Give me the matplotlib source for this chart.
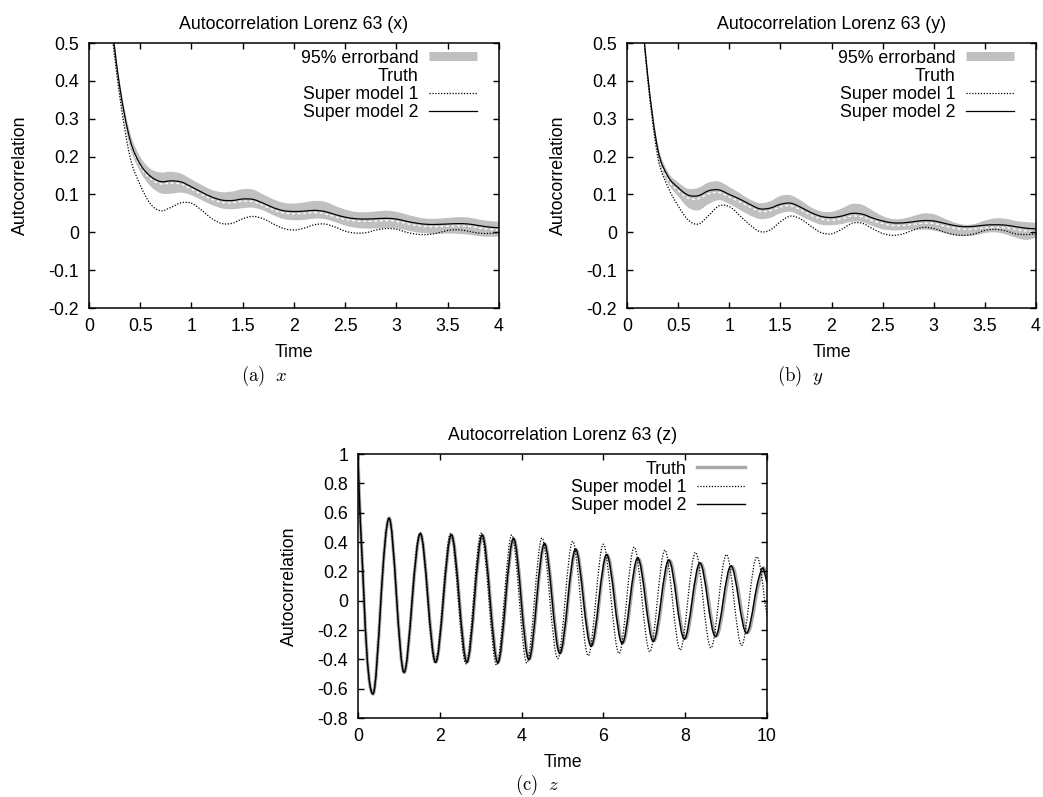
import numpy as np
import matplotlib
matplotlib.use("Agg")
import matplotlib.pyplot as plt
from matplotlib.path import Path
from matplotlib.patches import PathPatch
from matplotlib.lines import Line2D
from matplotlib.ticker import FuncFormatter

plt.rcParams['font.family'] = ['Liberation Sans', 'DejaVu Sans']
plt.rcParams['mathtext.fontset'] = 'cm'
plt.rcParams['axes.unicode_minus'] = False

# ---- panel (a): x component ----
time_a = [0.0, 0.1, 0.2, 0.3, 0.4, 0.5, 0.6, 0.7, 0.8, 0.9, 1.0, 1.1, 1.2, 1.3, 1.4, 1.5, 1.6, 1.7, 1.8, 1.9,
          2.0, 2.1, 2.2, 2.3, 2.4, 2.5, 2.6, 2.7, 2.8, 2.9, 3.0, 3.1, 3.2, 3.3, 3.4, 3.5, 3.6, 3.7, 3.8, 3.9, 4.0]
band_hi_a = [1.0, 0.84, 0.61, 0.40, 0.265, 0.2, 0.168, 0.158, 0.16, 0.155, 0.14, 0.125, 0.112, 0.106, 0.108,
             0.114, 0.113, 0.1, 0.087, 0.078, 0.076, 0.079, 0.083, 0.081, 0.07, 0.06, 0.054, 0.053, 0.055,
             0.057, 0.054, 0.047, 0.04, 0.036, 0.036, 0.038, 0.04, 0.039, 0.034, 0.03, 0.028]
band_lo_a = [1.0, 0.8, 0.57, 0.36, 0.225, 0.16, 0.122, 0.103, 0.102, 0.105, 0.098, 0.085, 0.072, 0.063, 0.061,
             0.064, 0.065, 0.058, 0.045, 0.035, 0.032, 0.033, 0.036, 0.035, 0.027, 0.018, 0.012, 0.01, 0.01,
             0.011, 0.01, 0.005, 0.0, -0.003, -0.004, -0.003, -0.004, -0.006, -0.01, -0.012, -0.011]
truth_a = [1.0, 0.83, 0.59, 0.38, 0.24, 0.175, 0.142, 0.128, 0.13, 0.127, 0.114, 0.1, 0.087, 0.079, 0.078,
           0.082, 0.081, 0.071, 0.059, 0.051, 0.049, 0.05, 0.052, 0.049, 0.041, 0.034, 0.03, 0.029, 0.03,
           0.031, 0.029, 0.023, 0.018, 0.015, 0.015, 0.016, 0.017, 0.016, 0.012, 0.008, 0.006]
sm1_a = [1.0, 0.83, 0.58, 0.36, 0.2, 0.125, 0.075, 0.057, 0.066, 0.078, 0.077, 0.058, 0.036, 0.023, 0.024,
         0.036, 0.042, 0.036, 0.022, 0.01, 0.006, 0.011, 0.02, 0.022, 0.014, 0.003, -0.002, -0.001, 0.006,
         0.01, 0.008, 0.0, -0.005, -0.006, -0.002, 0.005, 0.007, 0.003, -0.002, -0.003, -0.001]
sm2_a = [1.0, 0.84, 0.6, 0.385, 0.245, 0.18, 0.148, 0.134, 0.136, 0.133, 0.12, 0.106, 0.093, 0.085, 0.084,
         0.088, 0.087, 0.077, 0.065, 0.057, 0.055, 0.056, 0.058, 0.055, 0.047, 0.04, 0.036, 0.035, 0.036,
         0.037, 0.035, 0.029, 0.024, 0.021, 0.021, 0.022, 0.023, 0.022, 0.018, 0.014, 0.012]

# ---- panel (b): y component ----
time_b = time_a
band_hi_b = [1.0, 0.73, 0.43, 0.235, 0.16, 0.132, 0.115, 0.118, 0.132, 0.134, 0.12, 0.104, 0.087, 0.077, 0.082,
             0.096, 0.098, 0.084, 0.066, 0.055, 0.054, 0.063, 0.075, 0.073, 0.058, 0.043, 0.035, 0.036, 0.043,
             0.05, 0.048, 0.037, 0.026, 0.02, 0.022, 0.031, 0.037, 0.036, 0.03, 0.027, 0.025]
band_lo_b = [1.0, 0.7, 0.395, 0.2, 0.13, 0.095, 0.065, 0.058, 0.075, 0.085, 0.075, 0.06, 0.045, 0.035, 0.038,
             0.05, 0.054, 0.043, 0.03, 0.02, 0.019, 0.022, 0.028, 0.027, 0.017, 0.008, 0.005, 0.006, 0.007,
             0.007, 0.005, -0.002, -0.008, -0.01, -0.008, -0.002, 0.0, -0.005, -0.014, -0.02, -0.015]
truth_b = [1.0, 0.715, 0.412, 0.212, 0.14, 0.11, 0.09, 0.089, 0.102, 0.105, 0.093, 0.081, 0.067, 0.055, 0.057,
           0.067, 0.07, 0.059, 0.045, 0.035, 0.032, 0.036, 0.043, 0.041, 0.031, 0.023, 0.018, 0.018, 0.021,
           0.024, 0.023, 0.017, 0.011, 0.008, 0.009, 0.012, 0.013, 0.012, 0.008, 0.004, 0.002]
sm1_b = [1.0, 0.72, 0.41, 0.2, 0.12, 0.07, 0.032, 0.022, 0.045, 0.07, 0.068, 0.045, 0.02, 0.002, 0.006,
         0.028, 0.043, 0.035, 0.016, -0.001, -0.004, 0.008, 0.024, 0.024, 0.01, -0.003, -0.008, -0.004, 0.006,
         0.013, 0.01, 0.001, -0.006, -0.008, -0.004, 0.005, 0.008, 0.004, -0.004, -0.006, -0.004]
sm2_b = [1.0, 0.72, 0.42, 0.22, 0.148, 0.118, 0.098, 0.097, 0.11, 0.112, 0.1, 0.088, 0.074, 0.062, 0.064,
         0.074, 0.077, 0.066, 0.052, 0.042, 0.039, 0.043, 0.05, 0.048, 0.038, 0.03, 0.025, 0.025, 0.028,
         0.031, 0.03, 0.024, 0.018, 0.015, 0.016, 0.019, 0.02, 0.019, 0.015, 0.011, 0.009]

# ---- panel (c): z component (extrema and crossings) ----
truth_t_c = [0.0, 0.15, 0.367, 0.56, 0.759, 0.942, 1.126, 1.327, 1.527, 1.712, 1.902, 2.092, 2.287, 2.477, 2.668,
             2.855, 3.045, 3.235, 3.425, 3.615, 3.81, 3.997, 4.188, 4.377, 4.567, 4.755, 4.945, 5.14, 5.33, 5.52,
             5.712, 5.902, 6.092, 6.285, 6.475, 6.665, 6.857, 7.047, 7.237, 7.43, 7.62, 7.81, 8.0, 8.19, 8.382,
             8.572, 8.762, 8.955, 9.145, 9.335, 9.525, 9.715, 9.905, 10.0]
truth_c = [1.0, 0.0, -0.636, 0.0, 0.562, 0.04, -0.488, 0.0, 0.456, 0.02, -0.418, 0.015, 0.448, 0.015, -0.418,
           0.015, 0.445, 0.01, -0.42, 0.005, 0.42, 0.01, -0.398, 0.005, 0.385, 0.015, -0.355, 0.0, 0.347, 0.015,
           -0.305, 0.0, 0.31, 0.01, -0.287, 0.0, 0.286, 0.005, -0.272, 0.0, 0.272, 0.005, -0.256, 0.0, 0.252,
           0.005, -0.24, 0.0, 0.232, 0.005, -0.218, 0.0, 0.215, 0.15]
sm1_t_c = [0.0, 0.15, 0.367, 0.56, 0.758, 0.94, 1.12, 1.315, 1.515, 1.7, 1.885, 2.075, 2.265, 2.45, 2.64,
           2.825, 3.01, 3.2, 3.39, 3.575, 3.76, 3.945, 4.13, 4.315, 4.5, 4.69, 4.885, 5.065, 5.25, 5.44, 5.63,
           5.815, 6.0, 6.19, 6.385, 6.57, 6.755, 6.945, 7.135, 7.32, 7.505, 7.69, 7.88, 8.065, 8.255, 8.44,
           8.63, 8.82, 9.01, 9.195, 9.38, 9.565, 9.755, 9.945, 10.0]
sm1_c = [1.0, 0.0, -0.636, 0.0, 0.565, 0.04, -0.49, 0.0, 0.462, 0.02, -0.425, 0.015, 0.458, 0.015, -0.43,
         0.015, 0.46, 0.01, -0.44, 0.005, 0.448, 0.01, -0.425, 0.005, 0.428, 0.015, -0.395, 0.005, 0.405, 0.015,
         -0.375, 0.005, 0.385, 0.01, -0.36, 0.005, 0.365, 0.01, -0.348, 0.0, 0.345, 0.005, -0.336, 0.0, 0.33,
         0.005, -0.322, 0.0, 0.315, 0.005, -0.305, 0.0, 0.3, 0.0, -0.1]
sm2_t_c = [0.0, 0.15, 0.367, 0.56, 0.758, 0.94, 1.125, 1.325, 1.525, 1.71, 1.9, 2.09, 2.285, 2.475, 2.665,
           2.85, 3.04, 3.23, 3.42, 3.61, 3.805, 3.99, 4.18, 4.37, 4.56, 4.745, 4.935, 5.13, 5.32, 5.51, 5.7,
           5.89, 6.08, 6.27, 6.46, 6.65, 6.84, 7.03, 7.22, 7.41, 7.6, 7.79, 7.98, 8.17, 8.36, 8.55, 8.74, 8.93,
           9.12, 9.31, 9.5, 9.69, 9.88, 10.0]
sm2_c = [1.0, 0.0, -0.636, 0.0, 0.562, 0.04, -0.488, 0.0, 0.458, 0.02, -0.42, 0.015, 0.45, 0.015, -0.42,
         0.015, 0.448, 0.01, -0.423, 0.005, 0.425, 0.01, -0.402, 0.005, 0.39, 0.015, -0.36, 0.0, 0.352, 0.015,
         -0.31, 0.0, 0.315, 0.01, -0.292, 0.0, 0.292, 0.005, -0.278, 0.0, 0.278, 0.005, -0.262, 0.0, 0.258,
         0.005, -0.245, 0.0, 0.238, 0.005, -0.222, 0.0, 0.22, 0.12]

BAND = '#c0c0c0'
FS = 12.8


def bezier_verts(t, v, k=1.0):
    # smooth curve through the read points (cubic Hermite as Bezier segments)
    t = np.asarray(t, float)
    v = np.asarray(v, float)
    m = np.empty(len(t))
    m[1:-1] = (v[2:] - v[:-2]) / (t[2:] - t[:-2])
    m[0] = (v[1] - v[0]) / (t[1] - t[0])
    m[-1] = (v[-1] - v[-2]) / (t[-1] - t[-2])
    m = m * k
    verts = [(t[0], v[0])]
    for i in range(len(t) - 1):
        h = t[i + 1] - t[i]
        verts += [(t[i] + h / 3, v[i] + m[i] * h / 3),
                  (t[i + 1] - h / 3, v[i + 1] - m[i + 1] * h / 3),
                  (t[i + 1], v[i + 1])]
    return verts


def curve(ax, t, v, k=1.0, **kw):
    verts = bezier_verts(t, v, k)
    codes = [Path.MOVETO] + [Path.CURVE4] * (len(verts) - 1)
    ax.add_patch(PathPatch(Path(verts, codes), fill=False, **kw))


def band(ax, t, lo, hi):
    up = bezier_verts(t, hi)
    dn = bezier_verts(t[::-1], lo[::-1])
    verts = up + dn + [up[0]]
    codes = ([Path.MOVETO] + [Path.CURVE4] * (len(up) - 1) + [Path.LINETO] +
             [Path.CURVE4] * (len(dn) - 1) + [Path.CLOSEPOLY])
    ax.add_patch(PathPatch(Path(verts, codes), facecolor=BAND, edgecolor='none', lw=0))


def tick_fmt(x, pos):
    x = round(x, 3)
    if abs(x) < 1e-9:
        x = 0.0
    return '%g' % x


def style(ax, title, xlim, ylim, xt, yt):
    ax.set_xlim(xlim)
    ax.set_ylim(ylim)
    ax.set_xticks(xt)
    ax.set_yticks(yt)
    ax.xaxis.set_major_formatter(FuncFormatter(tick_fmt))
    ax.yaxis.set_major_formatter(FuncFormatter(tick_fmt))
    ax.tick_params(direction='in', top=True, right=True, length=4, width=1, labelsize=FS, pad=7)
    for s in ax.spines.values():
        s.set_linewidth(1.1)
    ax.set_title(title, fontsize=FS, pad=10)
    ax.set_xlabel('Time', fontsize=FS, labelpad=7)
    ax.set_ylabel('Autocorrelation', fontsize=FS, labelpad=14)


fig = plt.figure(figsize=(10.43, 7.97), dpi=100)
ax_a = fig.add_axes([0.0853, 0.6135, 0.3931, 0.3325])
ax_b = fig.add_axes([0.6012, 0.6135, 0.3921, 0.3325])
ax_c = fig.add_axes([0.3432, 0.0991, 0.3921, 0.3312])

leg_kw = dict(loc='upper right', bbox_to_anchor=(0.946, 0.975), frameon=False, markerfirst=False,
              fontsize=FS, handlelength=2.7, handletextpad=0.6, labelspacing=0.07,
              borderpad=0, borderaxespad=0)

for ax, t, lo, hi, tr, s1, s2, name in [(ax_a, time_a, band_lo_a, band_hi_a, truth_a, sm1_a, sm2_a, 'x'),
                                        (ax_b, time_b, band_lo_b, band_hi_b, truth_b, sm1_b, sm2_b, 'y')]:
    band(ax, t, lo, hi)
    curve(ax, t, tr, edgecolor='white', lw=1.0, linestyle=(0, (2, 2)))
    curve(ax, t, s1, edgecolor='black', lw=0.9, linestyle=(0, (1, 1.3)))
    curve(ax, t, s2, edgecolor='black', lw=0.9)
    style(ax, 'Autocorrelation Lorenz 63 (%s)' % name, (0, 4), (-0.2, 0.5),
          np.arange(0, 4.01, 0.5), np.arange(-0.2, 0.51, 0.1))
    handles = [Line2D([], [], color=BAND, lw=6.5, solid_capstyle='butt'),
               Line2D([], [], color='white', lw=1.0, linestyle=(0, (2, 2))),
               Line2D([], [], color='black', lw=0.9, linestyle=(0, (1, 1.3))),
               Line2D([], [], color='black', lw=0.9)]
    ax.legend(handles, ['95% errorband', 'Truth', 'Super model 1', 'Super model 2'], **leg_kw)

curve(ax_c, truth_t_c, truth_c, k=1.5, edgecolor='#a8a8a8', lw=2.4)
curve(ax_c, sm1_t_c, sm1_c, k=1.5, edgecolor='black', lw=0.9, linestyle=(0, (1, 1.3)))
curve(ax_c, sm2_t_c, sm2_c, k=1.5, edgecolor='black', lw=1.0)
style(ax_c, 'Autocorrelation Lorenz 63 (z)', (0, 10), (-0.8, 1.0),
      np.arange(0, 10.01, 2), np.arange(-0.8, 1.01, 0.2))
handles_c = [Line2D([], [], color='#a8a8a8', lw=2.4),
             Line2D([], [], color='black', lw=0.9, linestyle=(0, (1, 1.3))),
             Line2D([], [], color='black', lw=1.0)]
ax_c.legend(handles_c, ['Truth', 'Super model 1', 'Super model 2'], **leg_kw)

fig.text(264 / 1043, 1 - 376 / 797, r'$\mathrm{(a)}\ \ x$', ha='center', va='center', fontsize=13.5)
fig.text(801 / 1043, 1 - 376 / 797, r'$\mathrm{(b)}\ \ y$', ha='center', va='center', fontsize=13.5)
fig.text(537 / 1043, 1 - 785 / 797, r'$\mathrm{(c)}\ \ z$', ha='center', va='center', fontsize=13.5)

fig.savefig('out.png', dpi=100)
